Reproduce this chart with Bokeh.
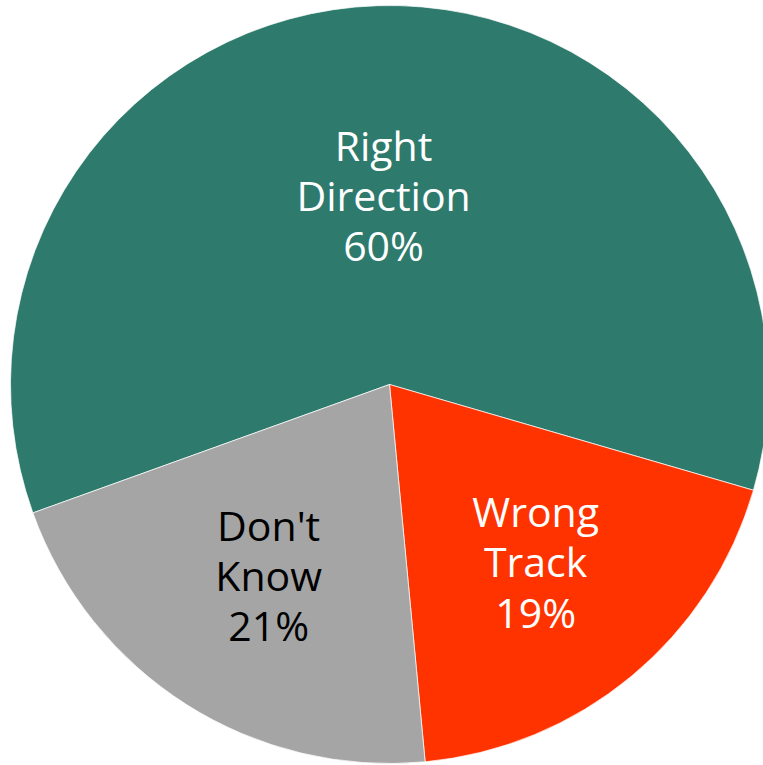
import math
from bokeh.plotting import figure
from bokeh.models import Range1d, ColumnDataSource
from bokeh.core.properties import value
from bokeh.embed import file_html
from bokeh.resources import INLINE

# Data
categories = ["Right\nDirection", "Wrong\nTrack", "Don't\nKnow"]
percents = [60, 19, 21]
colors = ["#2E7A6D", "#FF3300", "#A5A5A5"]
label_colors = ["white", "white", "black"]
label_dist = [0.50, 0.605, 0.595]

W, H = 763, 765
cx, cy, R = 389, H - 384, 379
start_deg = 199.8

total = sum(percents)
starts, ends, lx, ly, texts = [], [], [], [], []
a = math.radians(start_deg)
for cat, pct, d in zip(categories, percents, label_dist):
    sweep = 2 * math.pi * pct / total
    starts.append(a)
    ends.append(a - sweep)
    mid = a - sweep / 2
    lx.append(cx + d * R * math.cos(mid))
    ly.append(cy + d * R * math.sin(mid))
    texts.append(f"{cat}\n{pct}%")
    a -= sweep

src = ColumnDataSource(dict(start=starts, end=ends, color=colors,
                            lx=lx, ly=ly, text=texts, tc=label_colors))

p = figure(width=W, height=H, x_range=Range1d(0, W), y_range=Range1d(0, H),
           output_backend="svg", toolbar_location=None, min_border=0)
p.axis.visible = False
p.grid.visible = False
p.outline_line_color = None
p.background_fill_color = "white"
p.border_fill_color = "white"

p.wedge(x=cx, y=cy, radius=R, start_angle="start", end_angle="end",
        direction="clock", fill_color="color", line_color="white",
        line_width=1, line_alpha=0.7, source=src)

p.text(x="lx", y="ly", text="text", text_color="tc", source=src,
       text_font=value("Open Sans"), text_font_size="41px",
       text_align="center", text_baseline="middle", text_line_height=0.9)

open("out.html", "w").write(file_html(p, INLINE))
